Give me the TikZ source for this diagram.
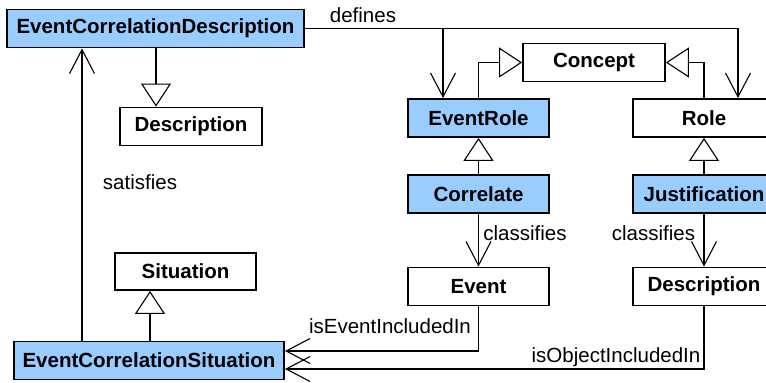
\documentclass[tikz,border=0pt]{standalone}
\usepackage{fontspec}
\setmainfont{Liberation Sans}
\usetikzlibrary{arrows.meta}
\definecolor{classblue}{RGB}{153,204,255}
\begin{document}
\begin{tikzpicture}[x=1pt,y=-1pt,
  cls/.style={draw=black,line width=1.8pt,minimum height=38pt,inner sep=0pt,
              font=\fontsize{20.5}{24}\selectfont\bfseries},
  ext/.style={cls,fill=classblue},
  plain/.style={cls,fill=white},
  lbl/.style={font=\fontsize{20.5}{24}\selectfont,inner sep=0pt},
  gen/.style={line width=1.1pt,-{Triangle[open,length=23pt,width=30pt,fill=white]}},
  assoc/.style={line width=1.1pt,-{Straight Barb[length=24pt,width=25pt]}}]
\useasboundingbox (0,0) rectangle (766,383);
\clip (0,0) rectangle (766,383);

% classes
\node[ext,minimum width=297pt]   (ecd)  at (155.5,28.5) {EventCorrelationDescription};
\node[plain,minimum width=142pt] (desc) at (191,126.5) {Description};
\node[plain,minimum width=142pt] (concept) at (594,62.5) {Concept};
\node[ext,minimum width=141pt]   (erole) at (478.5,118) {EventRole};
\node[plain,minimum width=142pt] (role) at (704,118) {Role};
\node[ext,minimum width=141pt]   (corr) at (478.5,194) {Correlate};
\node[ext,minimum width=142pt]   (just) at (704,194) {Justification};
\node[plain,minimum width=141pt] (event) at (478.5,286.5) {Event};
\node[plain,minimum width=142pt] (jdesc) at (704,286.5) {Description};
\node[plain,minimum width=141pt,minimum height=37pt] (sit) at (185.5,271.5) {Situation};
\node[ext,minimum width=270pt]   (ecs)  at (149,360.5) {EventCorrelationSituation};

% generalisations
\draw[gen] ([xshift=-35pt]desc.north |- ecd.south) -- ([xshift=-35pt]desc.north);
\draw[gen] (erole.north) |- (concept.west);
\draw[gen] (role.north) |- (concept.east);
\draw[gen] (corr.north) -- (erole.south);
\draw[gen] (just.north) -- (role.south);
\draw[gen] ([xshift=-35.5pt]sit.south |- ecs.north) -- ([xshift=-35.5pt]sit.south);

% defines
\coordinate (dfork) at ([xshift=-35.5pt]erole.north |- ecd.east);
\draw[assoc] (ecd.east) -| ([xshift=34pt]role.north);
\draw[assoc] (dfork) -- ([xshift=-35.5pt]erole.north);
\node[lbl] (ldef) at (363,15) {defines};

% satisfies
\draw[assoc] ([xshift=-67pt]ecs.north) -- ([xshift=-67pt]ecs.north |- ecd.south);
\node[lbl] (lsat) at (140,182) {satisfies};

% classifies
\draw[assoc] (corr.south) -- (event.north);
\node[lbl] (lcl1) at (525,233) {classifies};
\draw[assoc] (just.south) -- (jdesc.north);
\node[lbl] (lcl2) at (653.5,233) {classifies};

% inclusion
\draw[assoc] (event.south) |- ([yshift=9.5pt]ecs.east);
\node[lbl] (linc1) at (390,326) {isEventIncludedIn};
\draw[assoc] (jdesc.south) |- ([yshift=-8.5pt]ecs.east);
\node[lbl] (linc2) at (616,357) {isObjectIncludedIn};
\end{tikzpicture}
\end{document}
